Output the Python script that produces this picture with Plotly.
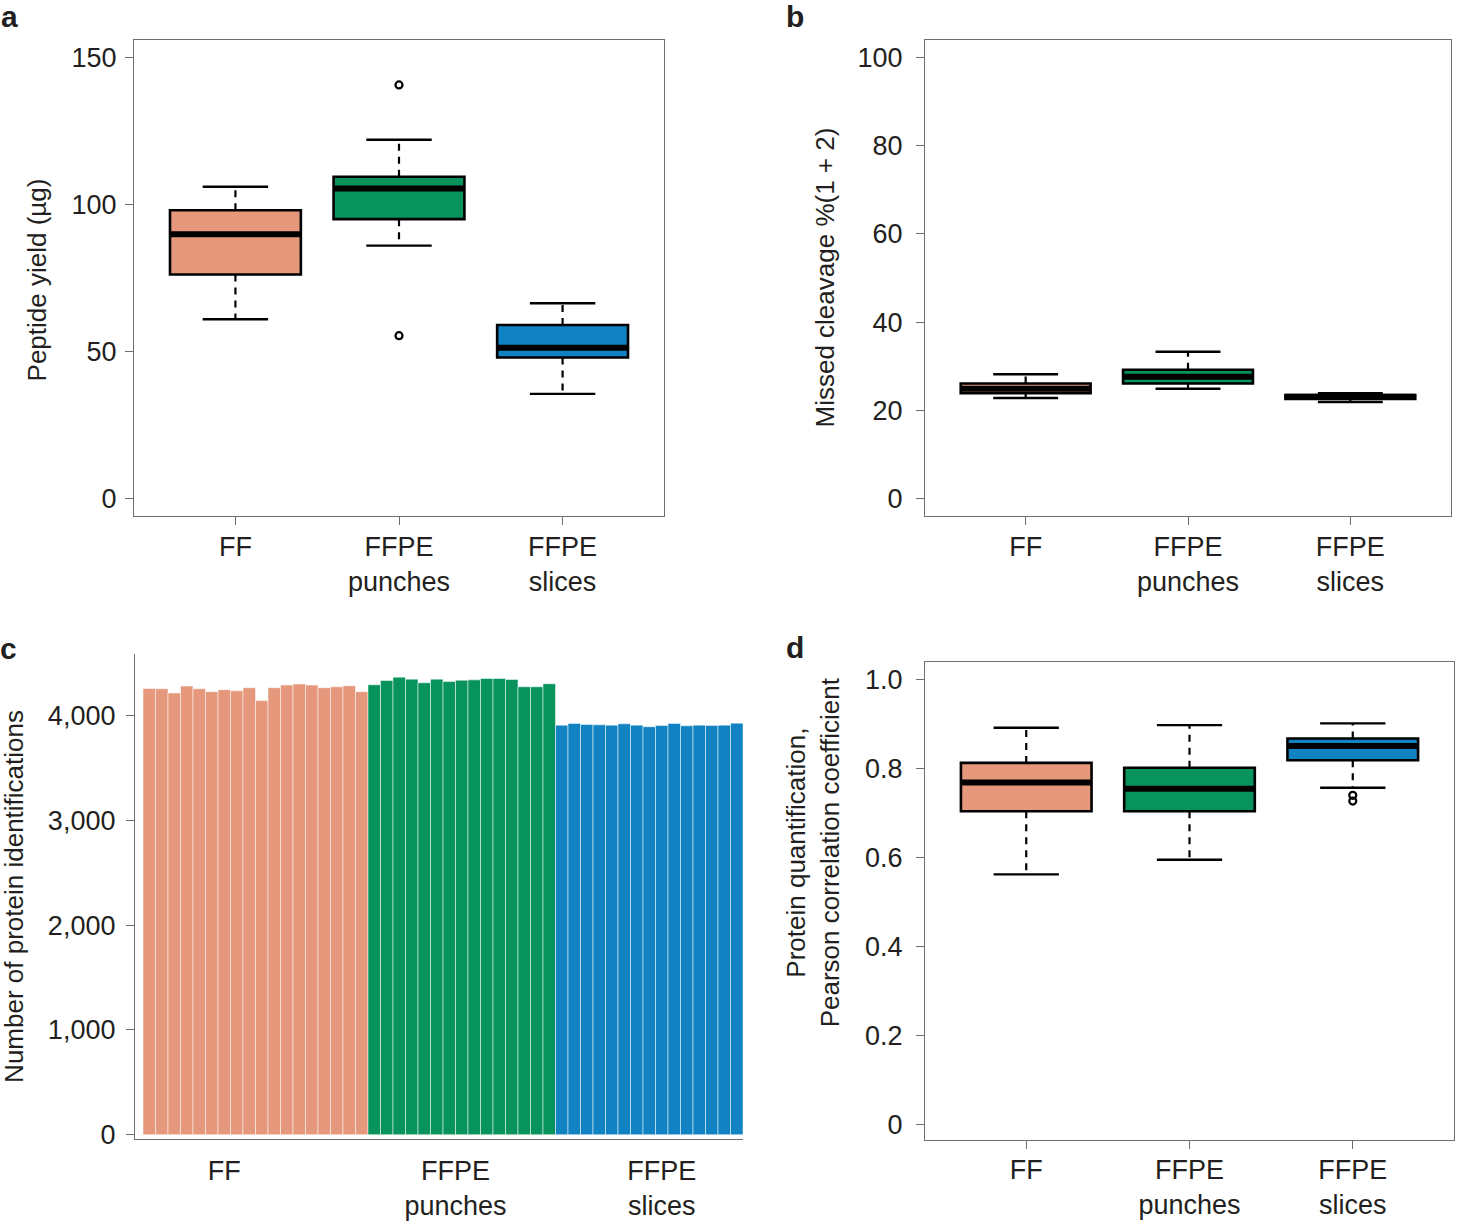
import plotly.graph_objects as go

W, H = 1459, 1228
FONT = "Liberation Sans, Arial, Helvetica, sans-serif"
TXT = "#231f20"
AXC = "#6d6e70"

GROUPS = ["FF", "FFPE<br>punches", "FFPE<br>slices"]
COLORS = ["#e5987b", "#08935d", "#1183c2"]
POS = [1, 2, 3]

# a: peptide yield (ug) -- box stats
yield_lower = [61.0, 86.0, 35.6]
yield_q1 = [76.2, 95.0, 48.0]
yield_med = [89.9, 105.4, 51.3]
yield_q3 = [98.0, 109.4, 59.0]
yield_upper = [106.0, 122.0, 66.4]
yield_out_x = [2, 2]
yield_out_y = [140.6, 55.4]

# b: missed cleavage %
mc_lower = [22.8, 24.9, 21.9]
mc_q1 = [23.9, 26.1, 22.6]
mc_med = [24.9, 27.6, 23.1]
mc_q3 = [26.1, 29.2, 23.5]
mc_upper = [28.2, 33.3, 23.9]

# d: pearson correlation
r_lower = [0.562, 0.595, 0.757]
r_q1 = [0.704, 0.704, 0.819]
r_med = [0.769, 0.755, 0.851]
r_q3 = [0.813, 0.802, 0.868]
r_upper = [0.892, 0.898, 0.902]
r_out_x = [3, 3]
r_out_y = [0.740, 0.727]

# c: number of protein identifications per sample
ff_ids = [4258, 4255, 4215, 4281, 4255, 4227, 4246, 4236, 4265,
          4142, 4265, 4290, 4300, 4290, 4265, 4274, 4284, 4227]
punch_ids = [4293, 4334, 4366, 4347, 4312, 4347, 4324, 4337, 4340,
             4353, 4353, 4343, 4274, 4274, 4303]
slice_ids = [3908, 3924, 3915, 3911, 3908, 3921, 3908, 3893, 3905,
             3924, 3902, 3908, 3905, 3908, 3927]
c_tickvals = [7, 25.5, 42]

BOXW = 0.8
CAPW = 0.4


def px_x(p):
    return p / W


def px_y(p):
    return 1 - p / H


def segs(xs, y0s, y1s, half=0.0):
    # build line segments separated by None
    X, Y = [], []
    for x, a, b in zip(xs, y0s, y1s):
        if half:
            X += [x - half, x + half, None]
            Y += [a, a, None]
        else:
            X += [x, x, None]
            Y += [a, b, None]
    return X, Y


def add_boxes(fig, xa, ya, lower, q1, med, q3, upper, out_x=None, out_y=None):
    # dashed whiskers
    wx, wy = segs(POS + POS, q3 + q1, upper + lower)
    fig.add_trace(go.Scatter(x=wx, y=wy, mode="lines", xaxis=xa, yaxis=ya,
                             line=dict(color="black", width=2.2, dash="7px,6px"),
                             showlegend=False, hoverinfo="skip"))
    # caps
    cx, cy = segs(POS + POS, upper + lower, upper + lower, half=CAPW / 2)
    fig.add_trace(go.Scatter(x=cx, y=cy, mode="lines", xaxis=xa, yaxis=ya,
                             line=dict(color="black", width=2.4),
                             showlegend=False, hoverinfo="skip"))
    # boxes
    fig.add_trace(go.Bar(x=POS, y=[b - a for a, b in zip(q1, q3)], base=q1,
                         width=BOXW, xaxis=xa, yaxis=ya,
                         marker=dict(color=COLORS, line=dict(color="black", width=2.6)),
                         showlegend=False, hoverinfo="skip"))
    # medians
    mx, my = segs(POS, med, med, half=BOXW / 2)
    fig.add_trace(go.Scatter(x=mx, y=my, mode="lines", xaxis=xa, yaxis=ya,
                             line=dict(color="black", width=6),
                             showlegend=False, hoverinfo="skip"))
    if out_x:
        fig.add_trace(go.Scatter(x=out_x, y=out_y, mode="markers", xaxis=xa, yaxis=ya,
                                 marker=dict(symbol="circle-open", size=7, color="black",
                                             line=dict(width=2.2)),
                                 showlegend=False, hoverinfo="skip"))


fig = go.Figure()

add_boxes(fig, "x", "y", yield_lower, yield_q1, yield_med, yield_q3, yield_upper,
          yield_out_x, yield_out_y)
add_boxes(fig, "x2", "y2", mc_lower, mc_q1, mc_med, mc_q3, mc_upper)
add_boxes(fig, "x4", "y4", r_lower, r_q1, r_med, r_q3, r_upper, r_out_x, r_out_y)

# c: bars
c_vals = ff_ids + punch_ids + slice_ids
c_cols = [COLORS[0]] * len(ff_ids) + [COLORS[1]] * len(punch_ids) + [COLORS[2]] * len(slice_ids)
fig.add_trace(go.Bar(x=list(range(1, len(c_vals) + 1)), y=c_vals, width=1,
                     xaxis="x3", yaxis="y3",
                     marker=dict(color=c_cols, line=dict(color="rgba(255,255,255,0.5)", width=1)),
                     showlegend=False, hoverinfo="skip"))

tickfont = dict(family=FONT, size=27, color=TXT)


def box_xaxis(dom, anchor):
    return dict(domain=dom, anchor=anchor, range=[0.38, 3.62], tickvals=POS, ticktext=GROUPS,
                showline=True, mirror=True, linecolor=AXC, linewidth=1.3,
                ticks="outside", ticklen=8, tickcolor=AXC, tickwidth=1.3,
                ticklabelstandoff=-2, showgrid=False, zeroline=False, tickfont=tickfont)


def box_yaxis(dom, anchor, rng, vals, text, standoff=8):
    return dict(domain=dom, anchor=anchor, range=rng, tickvals=vals, ticktext=text,
                showline=True, mirror=True, linecolor=AXC, linewidth=1.3,
                ticks="outside", ticklen=8, tickcolor=AXC, tickwidth=1.3,
                ticklabelstandoff=standoff, showgrid=False, zeroline=False, tickfont=tickfont)


top_dom = [px_y(521), px_y(40)]
fig.update_layout(
    width=W, height=H,
    margin=dict(l=0, r=0, t=0, b=0),
    paper_bgcolor="white", plot_bgcolor="white",
    font=dict(family=FONT, color=TXT),
    barmode="overlay",
    xaxis=box_xaxis([px_x(134), px_x(664)], "y"),
    yaxis=box_yaxis(top_dom, "x", [-6, 156], [0, 50, 100, 150], ["0", "50", "100", "150"],
                    standoff=3),
    xaxis2=box_xaxis([px_x(925), px_x(1451)], "y2"),
    yaxis2=box_yaxis(top_dom, "x2", [-4, 104], [0, 20, 40, 60, 80, 100],
                     ["0", "20", "40", "60", "80", "100"]),
    xaxis3=dict(domain=[px_x(135), px_x(743)], anchor="y3", range=[-0.14, 48.5],
                tickvals=c_tickvals, ticktext=GROUPS, ticks="", ticklabelstandoff=8,
                showline=True, linecolor=AXC, linewidth=1.3, showgrid=False, zeroline=False,
                tickfont=tickfont),
    yaxis3=dict(domain=[px_y(1149), px_y(660)], anchor="x3", range=[-38, 4586],
                tickvals=[0, 1000, 2000, 3000, 4000],
                ticktext=["0", "1,000", "2,000", "3,000", "4,000"],
                showline=True, linecolor=AXC, linewidth=1.3, ticks="outside", ticklen=8,
                tickcolor=AXC, tickwidth=1.3, ticklabelstandoff=5,
                showgrid=False, zeroline=False, tickfont=tickfont),
    xaxis4=box_xaxis([px_x(925), px_x(1454)], "y4"),
    yaxis4=box_yaxis([px_y(1150), px_y(668)], "x4", [-0.035, 1.04],
                     [0, 0.2, 0.4, 0.6, 0.8, 1.0], ["0", "0.2", "0.4", "0.6", "0.8", "1.0"]),
)

ann = []
for letter, x, y in [("a", 9, 17), ("b", 795, 17), ("c", 8, 654), ("d", 795, 653)]:
    ann.append(dict(text=letter, x=px_x(x), y=px_y(y), xref="paper", yref="paper",
                    xanchor="center", yanchor="middle", showarrow=False,
                    font=dict(family=FONT, size=30, color=TXT, weight="bold")))
for text, x, y in [("Peptide yield (µg)", 37, 283),
                   ("Missed cleavage %(1 + 2)", 825, 280),
                   ("Number of protein identifications", 14, 905),
                   ("Protein quantification,<br>Pearson correlation coefficient", 813, 860)]:
    ann.append(dict(text=text, x=px_x(x), y=px_y(y), xref="paper", yref="paper",
                    xanchor="center", yanchor="middle", textangle=-90, showarrow=False,
                    font=dict(family=FONT, size=26, color=TXT)))
fig.update_layout(annotations=ann)

# no body margin and no scrollbars, so the figure fills the window exactly
page_js = ("document.documentElement.style.overflow='hidden';"
           "document.body.style.overflow='hidden';"
           "document.body.style.margin='0';")
fig.write_html("out.html", config={"displayModeBar": False}, post_script=page_js)
